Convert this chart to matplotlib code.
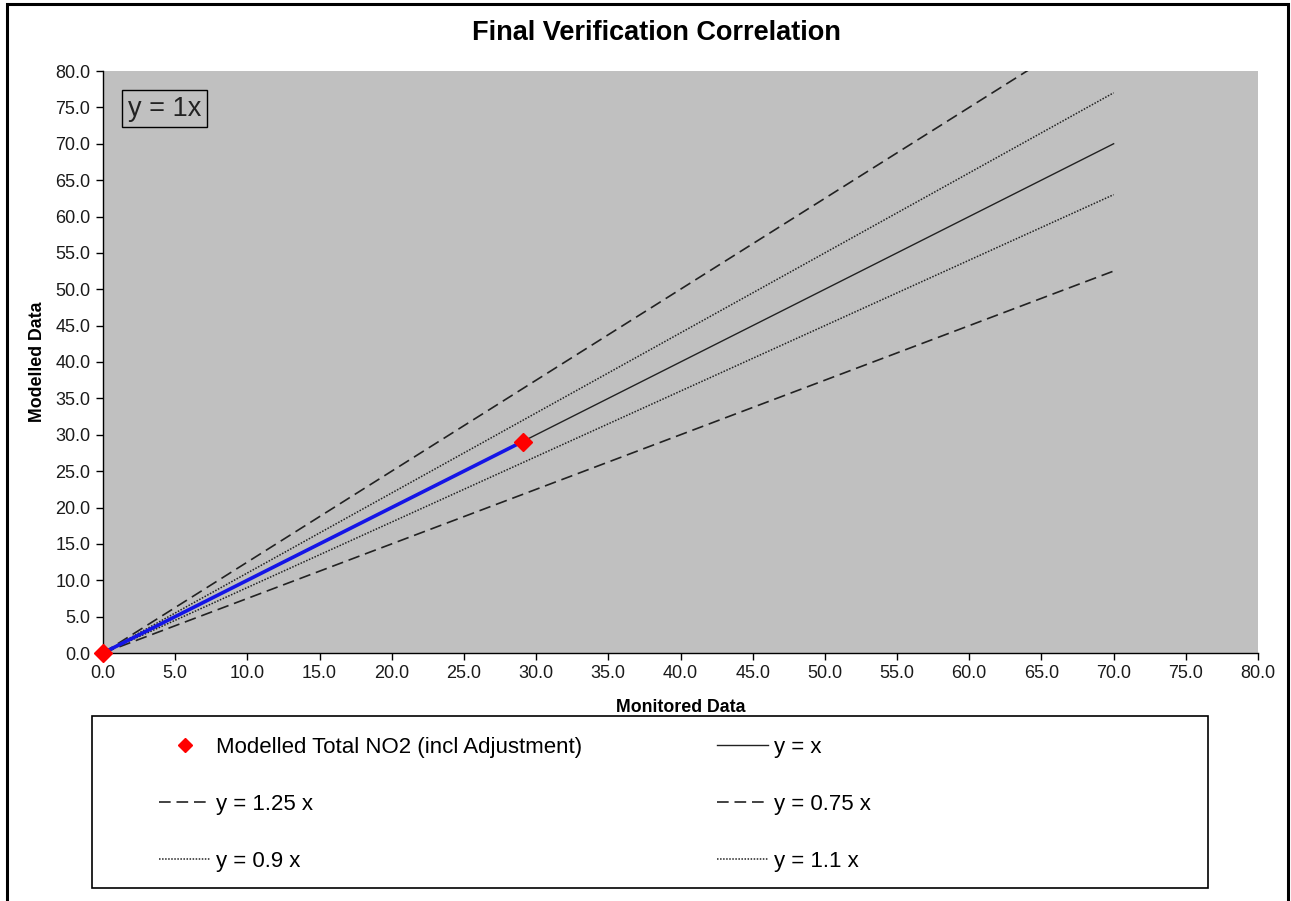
import matplotlib
matplotlib.use("Agg")
import matplotlib.pyplot as plt
from matplotlib.patches import Rectangle

plt.rcParams['font.family'] = ['Liberation Sans', 'DejaVu Sans']

# ---- data ----
monitored = [0.0, 29.1]
modelled = [0.0, 29.0]
trend_slope = 1.0
ref_x = [0.0, 70.0]
ref_factors = [1.0, 1.25, 0.75, 0.9, 1.1]
ref_labels = ["y = x", "y = 1.25 x", "y = 0.75 x", "y = 0.9 x", "y = 1.1 x"]
ticks = [0, 5, 10, 15, 20, 25, 30, 35, 40, 45, 50, 55, 60, 65, 70, 75, 80]

W, H = 1291, 901
fig = plt.figure(figsize=(W / 100, H / 100), dpi=100)
fig.patch.set_facecolor("white")

def fx(px):
    return px / W

def fy(py):
    return 1 - py / H

ax = fig.add_axes([fx(103), fy(653), fx(1258) - fx(103), fy(71) - fy(653)])
ax.set_facecolor("#C0C0C0")
ax.set_xlim(0, 80)
ax.set_ylim(0, 80)

styles = {
    1.0: dict(ls="-", lw=1.0),
    1.25: dict(ls=(0, (7, 3.5)), lw=1.2),
    0.75: dict(ls=(0, (7, 3.5)), lw=1.2),
    0.9: dict(ls=(0, (1, 1)), lw=1.1),
    1.1: dict(ls=(0, (1, 1)), lw=1.1),
}
handles = {}
for f, lab in zip(ref_factors, ref_labels):
    ys = [f * x for x in ref_x]
    h, = ax.plot(ref_x, ys, color="#222222", label=lab, zorder=2, **styles[f])
    handles[lab] = h

# trendline
tx = [min(monitored), max(monitored)]
ax.plot(tx, [trend_slope * x for x in tx], color="#1515E6", lw=2.6, zorder=3,
        solid_capstyle="round")

pts, = ax.plot(monitored, modelled, ls="none", marker="D", ms=9,
               color="#FF0000", mec="#FF0000", zorder=4, clip_on=False,
               label="Modelled Total NO2 (incl Adjustment)")

ax.set_xticks(ticks)
ax.set_yticks(ticks)
ax.set_xticklabels([f"{t:.1f}" for t in ticks])
ax.set_yticklabels([f"{t:.1f}" for t in ticks])
ax.tick_params(direction="out", length=5, width=1, colors="black",
               labelsize=13, labelcolor="#1a1a1a", pad=4)
for s in ["top", "right"]:
    ax.spines[s].set_visible(False)
for s in ["left", "bottom"]:
    ax.spines[s].set_color("black")
    ax.spines[s].set_linewidth(1.0)

ax.set_xlabel("Monitored Data", fontsize=12.8, fontweight="bold", labelpad=12)
ax.set_ylabel("Modelled Data", fontsize=12.8, fontweight="bold", labelpad=7)

fig.text(fx(656), fy(33), "Final Verification Correlation", ha="center",
         va="center", fontsize=19.5, fontweight="bold")

# y = 1x box
ax.text(0.0215, 0.935, "y = 1x", transform=ax.transAxes, fontsize=19.5,
        ha="left", va="center", color="#222222",
        bbox=dict(boxstyle="square,pad=0.2", fc="#C0C0C0", ec="black", lw=1))

# legend frame
fig.patches.append(Rectangle((fx(92), fy(888)), fx(1208) - fx(92), fy(716) - fy(888),
                             transform=fig.transFigure, fill=False, ec="black", lw=1.2))

order = [pts, handles["y = 1.25 x"], handles["y = 0.9 x"],
         handles["y = x"], handles["y = 0.75 x"], handles["y = 1.1 x"]]
leg = fig.legend(order, [h.get_label() for h in order], ncol=2,
                 loc="upper left", bbox_to_anchor=(fx(159), fy(737)),
                 frameon=False, fontsize=16, borderpad=0, borderaxespad=0,
                 handlelength=2.3, handletextpad=0.25, labelspacing=1.62,
                 columnspacing=6.1, markerscale=0.75)

# outer frame
fig.patches.append(Rectangle((fx(7), -0.01), fx(1288) - fx(7), fy(4) + 0.01,
                             transform=fig.transFigure, fill=False, ec="black", lw=2.2))

fig.savefig("out.png", dpi=100)
